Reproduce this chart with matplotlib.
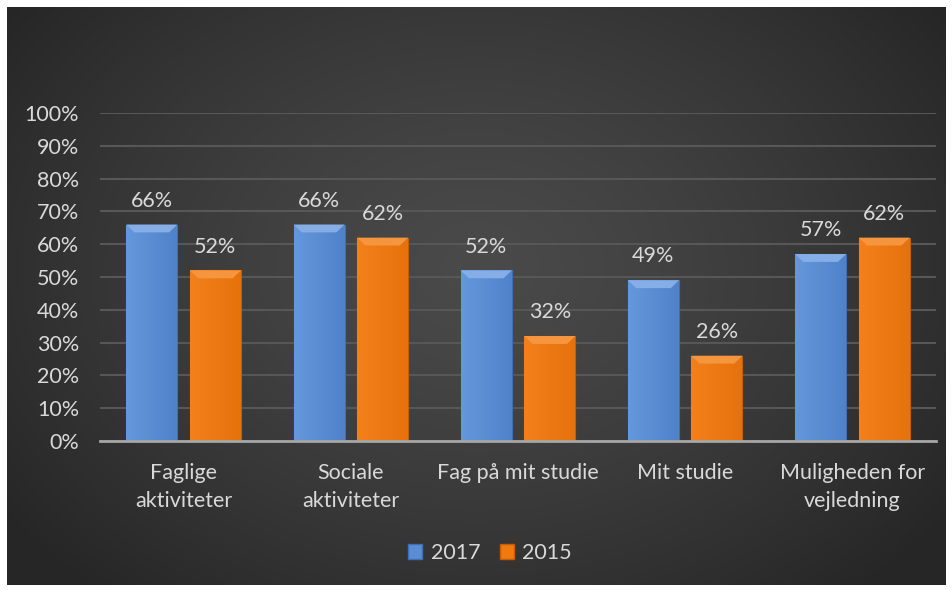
import numpy as np
import matplotlib
matplotlib.use("Agg")
import matplotlib.pyplot as plt
from matplotlib.patches import Patch, Polygon
from matplotlib.colors import LinearSegmentedColormap

categories = ["Faglige\naktiviteter", "Sociale\naktiviteter", "Fag på mit studie", "Mit studie", "Muligheden for\nvejledning"]
series_names = ["2017", "2015"]
values_2017 = [66, 66, 52, 49, 57]
values_2015 = [52, 62, 32, 26, 62]
yticks = [0, 10, 20, 30, 40, 50, 60, 70, 80, 90, 100]

plt.rcParams['font.family'] = ['Lato', 'DejaVu Sans']
W, H = 953, 590
FS = 15.5
fig = plt.figure(figsize=(W / 100, H / 100), dpi=100)
fig.patch.set_facecolor("white")

# background with radial gradient
bg = fig.add_axes([7 / W, 5 / H, 939 / W, 578 / H])
bg.set_axis_off()
yy, xx = np.mgrid[0:1:300j, 0:1:500j]
r = np.sqrt(((xx - 0.5) / 0.62) ** 2 + ((yy - 0.55) / 0.75) ** 2)
r = np.clip(r, 0, 1)
grad = 0.29 - (0.29 - 0.15) * r ** 1.3
bg.imshow(np.dstack([grad, grad, grad]), extent=[0, 1, 0, 1], aspect="auto", origin="lower")
bg.set_xlim(0, 1)
bg.set_ylim(0, 1)

ax = fig.add_axes([100 / W, (H - 441) / H, 836 / W, 328 / H])
ax.patch.set_alpha(0)
ax.set_zorder(2)

x = np.arange(len(categories))
bw = 0.305
off = 0.19
text_color = "#d9d9d9"

blue = "#5b8dd3"
orange = "#f07a10"
styles = [(blue, "#86aee6", "#3f6fb0", ["#6597dc", "#4f82c8"]),
          (orange, "#f5963f", "#c25e08", ["#f3801a", "#e5720b"])]

for vals, sgn, (col, light, dark, gcols) in zip([values_2017, values_2015], [-1, 1], styles):
    bars = ax.bar(x + sgn * off, vals, width=bw, color=col, edgecolor=dark, linewidth=0.8, zorder=3)
    cmap = LinearSegmentedColormap.from_list("g", gcols)
    for b, v in zip(bars, vals):
        bx, bwid, bh = b.get_x(), b.get_width(), b.get_height()
        im = ax.imshow(np.linspace(0, 1, 50)[None, :], cmap=cmap, aspect="auto",
                       extent=[bx, bx + bwid, 0, bh], zorder=3.5)
        im.set_clip_path(b)
        dx = bwid * 0.16
        dy = 2.4
        top = Polygon([[bx, bh], [bx + bwid, bh], [bx + bwid - dx, bh - dy], [bx + dx, bh - dy]],
                      closed=True, facecolor=light, edgecolor="none", zorder=4)
        ax.add_patch(top)
        ax.annotate(f"{v}%", (bx + bwid / 2, bh), xytext=(0, 10), textcoords="offset points",
                    ha="center", va="bottom", color=text_color, fontsize=FS)

ax.set_xlim(-0.5, len(categories) - 0.5)
ax.set_ylim(0, 100)
ax.set_yticks(yticks)
ax.set_yticklabels([f"{t}%" for t in yticks])
ax.set_xticks(x)
ax.set_xticklabels(categories, linespacing=1.5)
ax.tick_params(axis="y", length=0, pad=15, labelsize=FS, labelcolor=text_color)
ax.tick_params(axis="x", length=0, pad=16, labelsize=FS, labelcolor=text_color)
ax.grid(axis="y", color="#575757", linewidth=1.5, zorder=0)
ax.set_axisbelow(True)
for s in ["top", "right", "left"]:
    ax.spines[s].set_visible(False)
ax.spines["bottom"].set_color("#a6a6a6")
ax.spines["bottom"].set_linewidth(2)
ax.spines["bottom"].set_zorder(5)

handles = [Patch(facecolor=styles[0][0], edgecolor=styles[0][2]),
           Patch(facecolor=styles[1][0], edgecolor=styles[1][2])]
leg = fig.legend(handles, series_names, loc="center", bbox_to_anchor=(490 / W, 1 - 553 / H),
                 ncol=2, frameon=False, fontsize=FS, handlelength=0.65, handleheight=0.65,
                 handletextpad=0.4, columnspacing=0.9, labelcolor=text_color)

fig.savefig("out.png", dpi=100)
